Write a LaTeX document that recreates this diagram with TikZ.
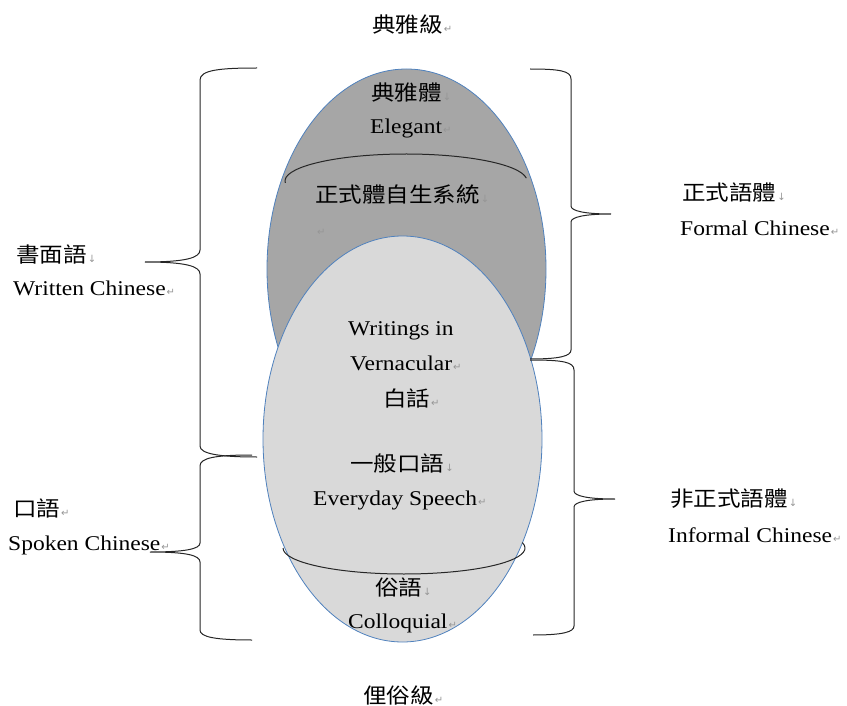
\documentclass[tikz,border=0pt]{standalone}
\usepackage{fontspec}
\setmainfont{Liberation Serif}[FakeStretch=1.12]
\newfontfamily\cjk{Noto Sans CJK TC}[FakeStretch=1.12]
\newfontfamily\symf{DejaVu Sans}
\definecolor{darkfill}{RGB}{166,166,166}
\definecolor{lightfill}{RGB}{217,217,217}
\definecolor{edgeblue}{RGB}{79,129,189}
\definecolor{markgrey}{RGB}{150,150,150}
\newcommand\retm{\hspace{1pt}{\symf\fontsize{10}{10}\selectfont\color{markgrey}↵}}
\newcommand\dnm{\hspace{1pt}{\symf\fontsize{10}{10}\selectfont\color{markgrey}↓}}
\tikzset{
  lbl/.style={anchor=base west, inner sep=0pt, font=\fontsize{21}{25}\selectfont},
  zh/.style={anchor=base west, inner sep=0pt, font=\cjk\fontsize{21}{25}\selectfont},
  bracestyle/.style={draw=black!85, line width=1pt},
  arcstyle/.style={draw=black!85, line width=1pt},
  blob/.style={draw=edgeblue, line width=0.8pt}
}
\begin{document}
\begin{tikzpicture}[x=1pt,y=-1pt]
\useasboundingbox (0,0) rectangle (847,706);
% ellipses
\path[blob, fill=darkfill] (406.5,269) ellipse [x radius=139.5, y radius=200];
\draw[arcstyle] (406,181) ++(176:121 and 27) arc [start angle=176, end angle=354, x radius=121, y radius=27];
\path[blob, fill=lightfill] (402.5,439) ellipse [x radius=139.5, y radius=203];
\draw[arcstyle] (404,548) ++(180:121 and 26) arc [start angle=180, end angle=-12, x radius=121, y radius=26];
% braces
\draw[bracestyle] (257,68) .. controls (220,68) and (200,70) .. (200,80) -- (200,250) .. controls (200,258) and (185,262) .. (145,262) .. controls (185,262) and (200,266) .. (200,274) -- (200,446) .. controls (200,454) and (220,457) .. (257,457);
\draw[bracestyle] (252,455) .. controls (215,455) and (200,458) .. (200,466) -- (200,543) .. controls (200,549) and (185,552) .. (150,552) .. controls (185,552) and (200,555) .. (200,562) -- (200,630) .. controls (200,637) and (215,640) .. (252,640);
\draw[bracestyle] (530,69) .. controls (560,69) and (571,71) .. (571,79) -- (571,206) .. controls (571,211) and (585,214) .. (611,214) .. controls (585,214) and (571,217) .. (571,222) -- (571,350) .. controls (571,356) and (560,359) .. (530,359);
\draw[bracestyle] (530,360) .. controls (563,360) and (574,362) .. (574,370) -- (574,491) .. controls (574,496) and (588,499) .. (615,499) .. controls (588,499) and (574,502) .. (574,507) -- (574,626) .. controls (574,632) and (563,635) .. (533,635);
% texts
\node[zh] (t1) at (372,33) {典雅級\retm};
\node[zh] (t2) at (371,101) {典雅體\dnm};
\node[lbl] (t3) at (370,134) {Elegant\retm};
\node[zh] (t4) at (315,203) {正式體自生系統\dnm};
\node[lbl] (t5) at (316,236) {\retm};
\node[zh] (t6) at (16,262) {書面語\dnm};
\node[lbl] (t7) at (13,295) {Written Chinese\retm};
\node[zh] (t8) at (682,201) {正式語體\dnm};
\node[lbl] (t9) at (680,236) {Formal Chinese\retm};
\node[lbl] (t10) at (348,335) {Writings in};
\node[lbl] (t11) at (350,370) {Vernacular\retm};
\node[zh] (t12) at (383,406) {白話\retm};
\node[zh] (t13) at (350,471) {一般口語\dnm};
\node[lbl] (t14) at (313,505) {Everyday Speech\retm};
\node[zh] (t15) at (13,516) {口語\retm};
\node[lbl] (t16) at (8,550) {Spoken Chinese\retm};
\node[zh] (t17) at (670,506) {非正式語體\dnm};
\node[lbl] (t18) at (668,542) {Informal Chinese\retm};
\node[zh] (t19) at (375,595) {俗語\dnm};
\node[lbl] (t20) at (348,628) {Colloquial\retm};
\node[zh] (t21) at (363,703) {俚俗級\retm};
\end{tikzpicture}
\end{document}
